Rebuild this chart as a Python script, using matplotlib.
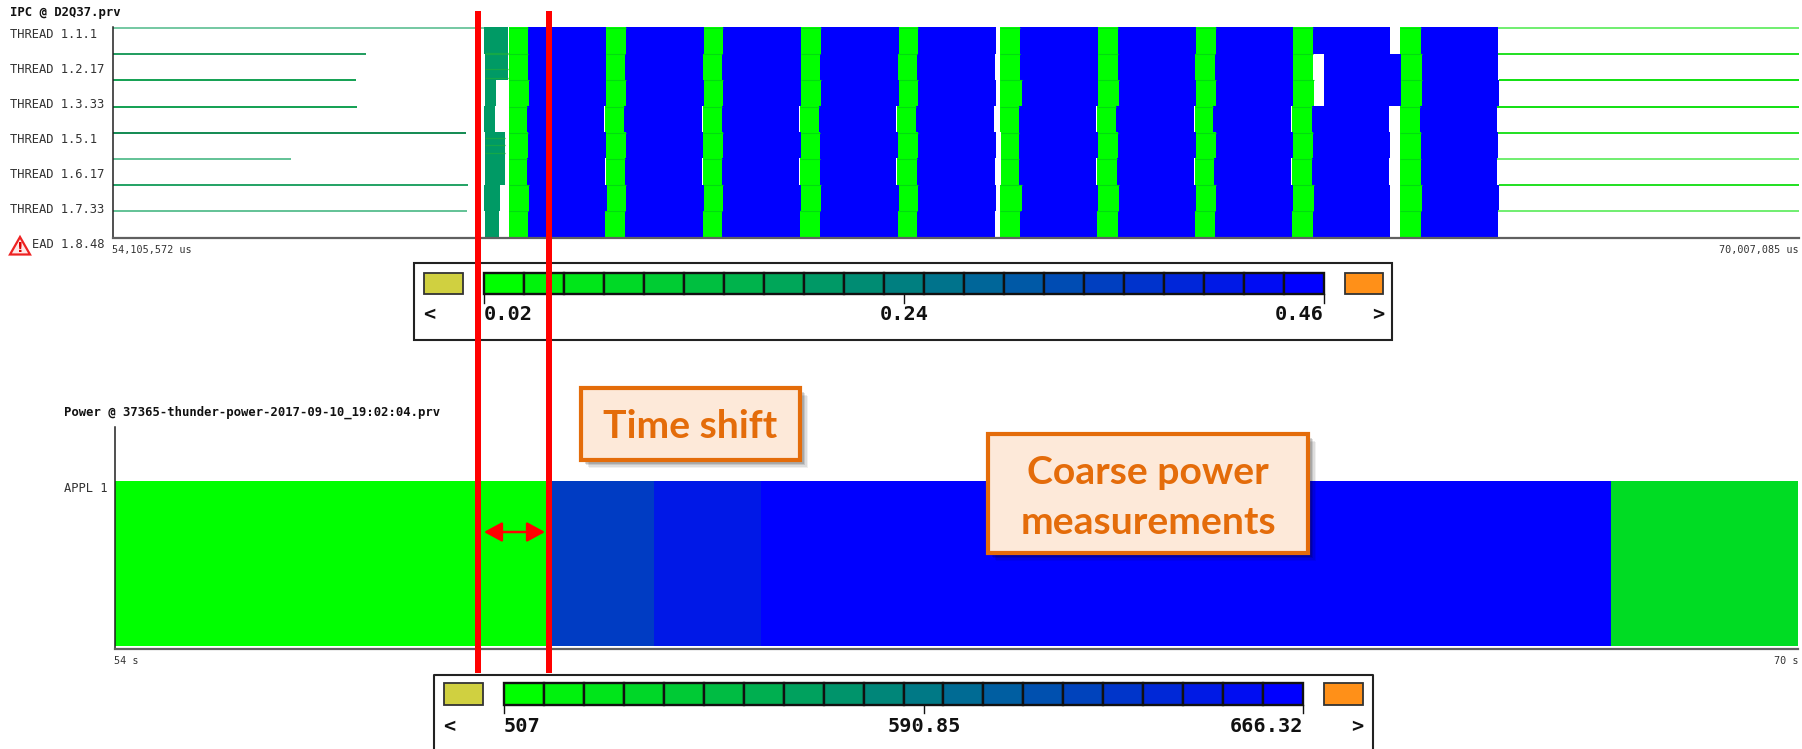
import matplotlib
matplotlib.use("Agg")
import matplotlib.pyplot as plt
from matplotlib.colors import LinearSegmentedColormap
from matplotlib.patches import Rectangle, Polygon

W, H = 1802, 749

# ---- IPC timeline data: trace time in timeline ticks since trace start, one value per row ----
thread_labels = ["THREAD 1.1.1", "THREAD 1.2.17", "THREAD 1.3.33", "THREAD 1.5.1",
                 "THREAD 1.6.17", "THREAD 1.7.33", "EAD 1.8.48"]
n_rows = 8
trace_end = 1686.5
idle_left_end = [371.5, 253.5, 243.5, 244.0, 353.0, 178.5, 355.5, 354.0]
teal_start = [371.5, 372.8, 372.8, 371.5, 372.8, 372.8, 371.5, 372.8]
teal_end = [395.2, 395.2, 383.5, 382.5, 392.5, 392.5, 387.5, 386.2]
green1_start = [396.5] * 8
green1_end = [415.8, 415.2, 416.8, 414.5, 415.8, 414.5, 416.8, 415.5]
green2_start = [493.5, 493.5, 493.5, 492.8, 493.5, 493.5, 494.5, 492.8]
green2_end = [513.2, 512.5, 513.8, 511.5, 513.5, 512.8, 513.8, 512.8]
green3_start = [591.2, 590.2, 591.2, 590.2, 590.2, 590.2, 591.2, 590.2]
green3_end = [610.8, 609.8, 610.8, 609.5, 610.8, 609.5, 610.8, 609.5]
green4_start = [688.5, 688.5, 688.5, 687.5, 688.5, 687.5, 688.5, 687.5]
green4_end = [708.8, 707.8, 708.8, 706.8, 707.8, 707.2, 708.8, 707.8]
green5_start = [786.5, 785.5, 786.5, 784.8, 785.5, 784.8, 786.5, 785.5]
green5_end = [805.8, 804.5, 805.8, 803.5, 805.8, 804.5, 805.8, 804.5]
blue5_end = [883.8, 882.2, 883.8, 881.2, 883.8, 882.2, 883.8, 882.2]
green6_start = [887.5, 887.5, 887.5, 887.5, 888.2, 888.2, 887.5, 887.5]
green6_end = [907.8, 907.8, 909.2, 906.8, 906.8, 906.8, 909.2, 907.8]
green7_start = [985.5, 985.5, 985.5, 984.2, 985.5, 984.8, 985.5, 984.8]
green7_end = [1005.8, 1005.8, 1006.5, 1003.8, 1005.8, 1004.5, 1006.5, 1005.2]
green8_start = [1083.5, 1082.5, 1083.5, 1082.5, 1083.5, 1082.5, 1083.5, 1082.5]
green8_end = [1103.2, 1102.5, 1103.2, 1100.8, 1103.2, 1101.8, 1103.2, 1102.2]
green9_start = [1180.5, 1180.5, 1180.5, 1179.5, 1180.5, 1179.5, 1180.5, 1179.5]
green9_end = [1200.2, 1200.2, 1201.2, 1199.2, 1200.2, 1199.2, 1201.2, 1200.2]
blue9_start = [1200.2, 1211.2, 1211.2, 1199.2, 1200.2, 1199.2, 1201.2, 1200.2]
blue9_end = [1277.5, 1288.8, 1288.8, 1276.5, 1277.5, 1276.5, 1277.5, 1277.5]
green10_start = [1287.5, 1288.8, 1288.8, 1287.5, 1287.5, 1287.5, 1287.5, 1287.5]
green10_end = [1308.5, 1309.5, 1309.5, 1307.2, 1308.5, 1308.5, 1309.5, 1308.5]
blue10_end = [1385.8, 1385.8, 1386.8, 1384.5, 1385.8, 1384.5, 1386.8, 1385.8]
white_slit = [0, 0, 0, 0.9, 0, 0.9, 0, 0]
idle_left_colors = ["#74c8a2", "#1f9c5e", "#12a052", "#12a052", "#128a52", "#62c296", "#22a264", "#62c296"]
idle_right_colors = ["#70ee70", "#20e020", "#10e010", "#10e010", "#20e020", "#70ee70", "#20e020", "#70ee70"]
ipc_teal = 0.195
teal_band_row = [1.03, 1.6, 1.94, 4.23, 4.48, 4.8, 0.98]
teal_band_end = [395.2, 395.2, 395.2, 392.5, 392.5, 392.5, 395.2]

# ---- Power timeline data ----
power_start = [54.0, 58.13, 59.12, 60.14, 68.22]
power_end = [58.13, 59.12, 60.14, 68.22, 70.0]
power_value = [507.0, 628.9, 651.3, 666.32, 528.9]
power_min, power_max = 507.0, 666.32

ipc_ticklabels = ["0.02", "0.24", "0.46"]
power_ticklabels = ["507", "590.85", "666.32"]

MONO = "DejaVu Sans Mono"
cmap = LinearSegmentedColormap.from_list("gb", ["#00ff00", "#0000ff"])
fig = plt.figure(figsize=(W / 100, H / 100), dpi=100, facecolor="white")


def px_axes(x0, y0, x1, y1, **kw):
    return fig.add_axes([x0 / W, 1 - y1 / H, (x1 - x0) / W, (y1 - y0) / H], **kw)


def style_timeline(ax):
    for s in ("top", "right"):
        ax.spines[s].set_visible(False)
    ax.spines["left"].set_color("#202020")
    ax.spines["left"].set_linewidth(1.1)
    ax.spines["bottom"].set_color("#606060")
    ax.spines["bottom"].set_linewidth(1.6)
    ax.set_xticks([])
    ax.set_yticks([])


# ---------- IPC timeline ----------
ax = px_axes(112.5, 27.3, 1799, 238)
ax.set_xlim(0, trace_end)
ax.set_ylim(n_rows + 0.03, 0)
style_timeline(ax)
gs = [green1_start, green2_start, green3_start, green4_start, green5_start,
      green6_start, green7_start, green8_start, green9_start, green10_start]
ge = [green1_end, green2_end, green3_end, green4_end, green5_end,
      green6_end, green7_end, green8_end, green9_end, green10_end]
blue_c = cmap(1.0)
green_c = cmap(0.0)
for r in range(n_rows):
    ax.broken_barh([(teal_start[r], teal_end[r] - teal_start[r])], (r, 1),
                   color=cmap((ipc_teal - 0.02) / 0.44), lw=0)
    for b in range(10):
        if b < 9:
            if b == 4:
                b0, b1 = ge[b][r], blue5_end[r]
            elif b == 8:
                b0, b1 = blue9_start[r], blue9_end[r]
            else:
                b0, b1 = ge[b][r], gs[b + 1][r] - white_slit[r]
        else:
            b0, b1 = ge[b][r], blue10_end[r]
        ax.broken_barh([(b0, b1 - b0)], (r, 1), color=blue_c, lw=0)
        ax.broken_barh([(gs[b][r], ge[b][r] - gs[b][r])], (r, 1), color=green_c, lw=0)
        ax.hlines(r + 0.02, gs[b][r], ge[b][r], color="#00dc10", lw=0.8)
    ax.hlines(r + 0.02, 0, idle_left_end[r], color=idle_left_colors[r], lw=1.4)
    ax.hlines(r + 0.02, blue10_end[r], trace_end, color=idle_right_colors[r], lw=1.4)
for yb, xe in zip(teal_band_row, teal_band_end):
    ax.hlines(yb, 372.8, xe, color="#14a848", lw=0.9)

# ---------- Power timeline ----------
ax2 = px_axes(115, 427, 1798, 648.5)
ax2.set_xlim(54, 70)
ax2.set_ylim(0, 221.5)
style_timeline(ax2)
for s, e, v in zip(power_start, power_end, power_value):
    ax2.broken_barh([(s, e - s)], (2, 165.5),
                    color=cmap((v - power_min) / (power_max - power_min)), lw=0)

# ---------- Overlay in pixel coordinates: text, legends, callouts ----------
ov = fig.add_axes([0, 0, 1, 1], facecolor="none")
ov.set_xlim(0, W)
ov.set_ylim(H, 0)
ov.axis("off")

ov.text(10, 12.5, "IPC @ D2Q37.prv", family=MONO, weight="bold", fontsize=8.8, va="center", color="#111111")
label_y = [34.5, 69.5, 104, 139.5, 174, 209.5, 244]
for i, (t, y) in enumerate(zip(thread_labels, label_y)):
    ov.text(32 if i == 6 else 10, y, t, family=MONO, fontsize=8.7, va="center", color="#333333")
ov.text(112, 250.5, "54,105,572 us", family=MONO, fontsize=7.3, va="center", color="#333333")
ov.text(1799, 250.5, "70,007,085 us", family=MONO, fontsize=7.3, va="center", ha="right", color="#333333")
ov.text(64, 412, "Power @ 37365-thunder-power-2017-09-10_19:02:04.prv", family=MONO, weight="bold",
        fontsize=8.8, va="center", color="#111111")
ov.text(64, 488, "APPL 1", family=MONO, fontsize=8.7, va="center", color="#333333")
ov.text(114, 661, "54 s", family=MONO, fontsize=7.3, va="center", color="#333333")
ov.text(1798, 661, "70 s", family=MONO, fontsize=7.3, va="center", ha="right", color="#333333")

# warning icon
ov.add_patch(Polygon([(20, 237), (10, 254.5), (30, 254.5)], closed=True, fc="#ffe8e8", ec="#ee2222", lw=1.6))
ov.text(20, 248, "!", color="#dd0000", fontsize=10, weight="bold", ha="center", va="center")


def legend(box, lsw, bar, rsw, sw_y, n, labels, mid, tick_bottom, lab_y, lt, gt, clip_bottom=False):
    x0, y0, x1, y1 = box
    if clip_bottom:
        ov.plot([x0, x0, x1, x1], [y1, y0, y0, y1], color="#222222", lw=1.5, clip_on=False)
    else:
        ov.add_patch(Rectangle((x0, y0), x1 - x0, y1 - y0, fc="white", ec="#222222", lw=1.5))
    for (a, b), c in ((lsw, "#d0d040"), (rsw, "#ff9018")):
        ov.add_patch(Rectangle((a, sw_y[0]), b - a, sw_y[1] - sw_y[0], fc=c, ec="#333333", lw=1.3))
    step = (bar[1] - bar[0]) / n
    for i in range(n):
        ov.add_patch(Rectangle((bar[0] + i * step, sw_y[0]), step, sw_y[1] - sw_y[0],
                               fc=cmap(i / (n - 1)), ec="#111111", lw=1.7))
    for x in (bar[0], mid, bar[1]):
        ov.plot([x, x], [sw_y[1], tick_bottom], color="#111111", lw=1)
    kw = dict(family=MONO, weight="bold", fontsize=14.6, va="center", color="#111111")
    ov.text(bar[0], lab_y, labels[0], ha="left", **kw)
    ov.text(mid, lab_y, labels[1], ha="center", **kw)
    ov.text(bar[1], lab_y, labels[2], ha="right", **kw)
    ov.text(lt, lab_y, "<", ha="center", **kw)
    ov.text(gt, lab_y, ">", ha="center", **kw)


legend((414, 262.7, 1392, 340), (423.6, 462.5), (484, 1323.5), (1345, 1383), (272.7, 294), 21,
       ipc_ticklabels, 904, 302.5, 315, 429, 1378)
legend((434, 674.7, 1373, 749), (443.6, 482.5), (504, 1303), (1324, 1362.6), (683, 704.7), 20,
       power_ticklabels, 924, 713, 727, 449, 1357, clip_bottom=True)

# red vertical markers and arrow
for x in (477.6, 549):
    ov.add_patch(Rectangle((x - 3, 10.5), 6, 662.5, fc="#ff0000", ec="none", zorder=5))
ov.annotate("", xy=(484, 532), xytext=(545, 532), zorder=6,
            arrowprops=dict(arrowstyle="<|-|>,head_length=0.55,head_width=0.3", color="#ff0000",
                            lw=1.8, shrinkA=0, shrinkB=0, mutation_scale=20))


def callout(x0, y0, x1, y1, lines, ys):
    for k, a in ((8, 0.06), (6.5, 0.08), (5, 0.11), (3.5, 0.14), (2, 0.18)):
        ov.add_patch(Rectangle((x0 + k, y0 + k), x1 - x0, y1 - y0, fc="#000000", ec="none", alpha=a, zorder=6))
    ov.add_patch(Rectangle((x0, y0), x1 - x0, y1 - y0, fc="#fde9d9", ec="#e46c0a", lw=3, zorder=7))
    for t, y in zip(lines, ys):
        ov.text((x0 + x1) / 2, y, t, family="Lato", weight="bold", fontsize=28.2, color="#e46c0a",
                ha="center", va="center", zorder=8)


callout(581, 388, 800, 460, ["Time shift"], [427])
callout(988, 434, 1308, 553, ["Coarse power", "measurements"], [473, 523])

fig.savefig("out.png", dpi=100, facecolor="white")
